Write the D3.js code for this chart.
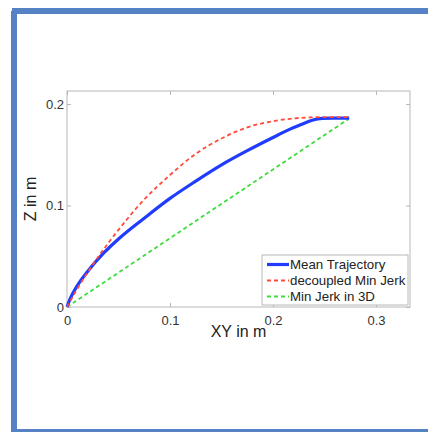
<!DOCTYPE html>
<html>
<head>
<meta charset="utf-8">
<script src="https://cdn.jsdelivr.net/npm/d3@7"></script>
<style>
  body { margin: 0; background: #fff; }
  svg { display: block; font-family: "Liberation Sans", Arial, sans-serif; }
</style>
</head>
<body>
<div class="chart"></div>
<script>
// DATA ------------------------------
const meanXY = [0, 0.003, 0.01, 0.02, 0.035, 0.05, 0.075, 0.1, 0.125, 0.15, 0.175, 0.2, 0.215, 0.228, 0.238, 0.248, 0.258, 0.274];
const meanZ = [0, 0.008, 0.021, 0.035, 0.0525, 0.067, 0.0875, 0.107, 0.124, 0.14, 0.154, 0.167, 0.1745, 0.18, 0.184, 0.1858, 0.186, 0.186];

const decXY = [0, 0.01, 0.02, 0.03, 0.05, 0.075, 0.1, 0.125, 0.15, 0.175, 0.2, 0.225, 0.245, 0.275];
const decZ = [0, 0.018, 0.034, 0.049, 0.076, 0.106, 0.13, 0.151, 0.166, 0.177, 0.183, 0.1862, 0.187, 0.187];

const mj3dXY = [0, 0.273];
const mj3dZ = [0, 0.185];

const xTicks = [0, 0.1, 0.2, 0.3];
const yTicks = [0, 0.1, 0.2];
const legendLabels = ['Mean Trajectory', 'decoupled Min Jerk', 'Min Jerk in 3D'];

// CHART INIT ------------------------------
const W = 428, H = 432;
const margin = { top: 91, right: 18, bottom: 125, left: 67 };
const width = W - margin.left - margin.right;
const height = H - margin.top - margin.bottom;

const svg = d3.select('.chart').append('svg').attr('width', W).attr('height', H);

// blue frame
svg.append('rect').attr('x', 12).attr('y', 8).attr('width', W - 12).attr('height', 6).attr('fill', '#5582c4');
svg.append('rect').attr('x', 11).attr('y', 11).attr('width', 6).attr('height', H - 11).attr('fill', '#5582c4');
svg.append('rect').attr('x', 11).attr('y', 429).attr('width', W - 11).attr('height', 3).attr('fill', '#5582c4');

const group = svg.append('g').attr('transform', 'translate(' + margin.left + ',' + margin.top + ')');

const xScale = d3.scaleLinear().domain([0, 0.333]).range([0, width]);
const yScale = d3.scaleLinear().domain([0, 0.2128]).range([height, 0]);

// axes box
group.append('rect').attr('width', width).attr('height', height)
  .attr('fill', 'none').attr('stroke', '#b8b8b8').attr('stroke-width', 1);

const fmt = (d) => (d === 0 ? '0' : d3.format('.1f')(d));

group.append('g').attr('transform', 'translate(0,' + height + ')')
  .call(d3.axisBottom(xScale).tickValues(xTicks).tickSize(-4).tickPadding(9).tickFormat(fmt))
  .call((g) => g.select('.domain').remove());
group.append('g')
  .call(d3.axisTop(xScale).tickValues(xTicks).tickSize(-4).tickFormat(''))
  .call((g) => g.select('.domain').remove());
group.append('g')
  .call(d3.axisLeft(yScale).tickValues(yTicks).tickSize(-4).tickPadding(3).tickFormat(fmt))
  .call((g) => g.select('.domain').remove());
group.append('g').attr('transform', 'translate(' + width + ',0)')
  .call(d3.axisRight(yScale).tickValues(yTicks).tickSize(-4).tickFormat(''))
  .call((g) => g.select('.domain').remove());

group.selectAll('.tick line').attr('stroke', '#b8b8b8');
group.selectAll('.tick text').attr('font-size', 13).attr('fill', '#333')
  .attr('font-family', '"Liberation Sans", Arial, sans-serif');

// axis titles
group.append('text').attr('x', width / 2).attr('y', height + 30)
  .attr('text-anchor', 'middle').attr('font-size', 16).attr('fill', '#222').text('XY in m');
group.append('text').attr('transform', 'translate(-31,' + height / 2 + ') rotate(-90)')
  .attr('text-anchor', 'middle').attr('font-size', 16).attr('fill', '#222').text('Z in m');

// lines
const line = d3.line().x((d) => xScale(d[0])).y((d) => yScale(d[1])).curve(d3.curveMonotoneX);
const series = [
  { pts: d3.zip(mj3dXY, mj3dZ), color: '#3ddc3d', w: 1.8, dash: '4,3' },
  { pts: d3.zip(meanXY, meanZ), color: '#1f3cff', w: 3.2, dash: null },
  { pts: d3.zip(decXY, decZ), color: '#ff4a3a', w: 1.8, dash: '4,3' }
];
series.forEach((s) => {
  group.append('path').datum(s.pts).attr('d', line)
    .attr('fill', 'none').attr('stroke', s.color).attr('stroke-width', s.w)
    .attr('stroke-dasharray', s.dash);
});

// legend
const legend = group.append('g').attr('transform', 'translate(' + (262 - margin.left) + ',' + (255 - margin.top) + ')');
legend.append('rect').attr('width', 146).attr('height', 50)
  .attr('fill', '#fff').attr('stroke', '#b8b8b8');
const legendStyle = [series[1], series[2], series[0]];
legendLabels.forEach((lab, i) => {
  const y = 9.5 + i * 16;
  legend.append('line').attr('x1', 5).attr('x2', 27).attr('y1', y).attr('y2', y)
    .attr('stroke', legendStyle[i].color).attr('stroke-width', legendStyle[i].w)
    .attr('stroke-dasharray', legendStyle[i].dash);
  legend.append('text').attr('x', 28).attr('y', y + 4.5)
    .attr('font-size', 13.3).attr('fill', '#222').text(lab);
});
</script>
</body>
</html>
